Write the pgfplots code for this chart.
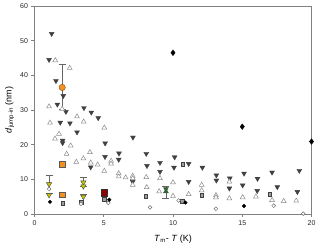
\documentclass[border=0pt]{standalone}
\usepackage{pgfplots}
\pgfplotsset{compat=1.18}
\usepackage{fontspec}
\setmainfont{Liberation Sans}
\definecolor{dtri}{HTML}{404040}
\definecolor{otri}{HTML}{8C8C8C}
\definecolor{orng}{HTML}{F39020}
\definecolor{yel}{HTML}{C8C400}
\definecolor{dred}{HTML}{8B0000}
\definecolor{grn}{HTML}{1A7A1A}
\begin{document}
\begin{tikzpicture}
\begin{axis}[name=ax,
  scale only axis, width=277pt, height=208pt,
  xmin=0, xmax=20, ymin=0, ymax=60,
  xtick={0,5,10,15,20}, ytick={0,10,20,30,40,50,60},
  tick pos=left, tick align=outside, major tick length=3pt,
  axis line style={color=gray, line width=0.8pt},
  tick style={color=gray, line width=0.6pt},
  /pgf/number format/assume math mode=true,
  ticklabel style={font=\fontsize{7}{8}\selectfont, color=black!85},
  label style={font=\fontsize{9}{10}\selectfont},
  xlabel={\textit{T}\textsubscript{m}- \textit{T} (K)},
  ylabel={\textit{d}\textsubscript{jump-in} (nm)},
  xlabel style={at={([yshift=-25pt]axis description cs:0.5,0)}, anchor=center},
  ylabel style={at={([xshift=-25pt]axis description cs:0,0.5)}, anchor=center},
  clip=false,
]
% dark filled down triangles
\addplot[only marks, mark=triangle*, mark size=2.8pt, mark options={rotate=180, fill=dtri, draw=dtri}] coordinates {
(1.24,52.0)(1.05,44.5)(1.55,38.4)(2.08,34.1)(1.65,31.6)(2.27,29.5)(3.57,30.6)(4.1,29.3)(4.6,27.7)(1.86,26.4)(2.56,26.2)(3.07,23.6)(2.03,21.2)(2.03,20.5)(5.1,20.4)(7.11,22.1)(5.09,16.5)(6.1,17.5)(6.08,15.7)(4.06,13.5)(7.09,9.3)(8.07,17.4)(8.12,13.9)(9.06,14.8)(9.06,12.2)(10.12,16.4)(10.07,13.4)(11.13,14.5)(12.12,13.4)(11.13,9.3)(13.13,11.2)(13.13,9.7)(14.1,10.3)(14.07,7.4)(15.13,11.7)(15.03,8.3)(16.1,10.2)(16.08,6.7)(17.15,12.0)(17.53,7.8)(19.12,12.5)(18.98,6.4)
};
% open up triangles
\addplot[only marks, mark=triangle*, mark size=2.8pt, mark options={fill=white, draw=otri, line width=0.5pt}] coordinates {
(1.5,44.3)(2.54,42.1)(1.05,31.0)(2.0,30.3)(3.07,28.1)(3.55,26.6)(1.12,26.3)(5.04,24.9)(1.48,21.7)(1.77,23.1)(2.61,19.7)(2.32,17.3)(4.0,17.8)(3.02,15.0)(3.53,16.0)(4.06,14.8)(4.56,14.2)(5.04,12.4)(5.53,15.3)(5.53,14.5)(6.08,11.7)(6.08,10.8)(6.58,10.5)(7.09,11.0)(7.09,10.3)(7.09,8.4)(8.07,10.6)(8.1,7.7)(9.06,10.3)(9.0,6.5)(10.0,9.1)(10.0,5.2)(11.13,5.7)(12.07,8.4)(12.07,6.8)(13.1,5.4)(13.1,4.8)(14.07,9.3)(14.07,4.5)(15.03,4.8)(15.99,5.0)(17.15,4.0)(17.99,3.7)(18.9,3.8)
};
% gray squares
\addplot[only marks, mark=square*, mark size=1.9pt, mark options={fill=gray!75, draw=dtri, line width=0.4pt}] coordinates {
(2.04,3.2)(3.4,3.5)(5.02,4.3)(8.03,5.1)(10.7,14.4)(10.67,3.7)(12.07,5.5)(16.98,5.6)
};
% open circles
\addplot[only marks, mark=*, mark size=1.9pt, mark options={fill=white, draw=gray!90!black, line width=0.5pt}] coordinates {
(1.05,7.2)(3.36,2.9)(5.33,3.2)(8.34,1.9)(10.4,3.9)(13.1,1.5)(17.27,2.4)(19.4,0.1)
};
% black circles
\addplot[only marks, mark=*, mark size=1.8pt, mark options={fill=black, draw=black}] coordinates {
(1.12,3.5)(5.4,4.1)(10.9,3.3)(15.13,2.3)
};
% black diamonds
\addplot[only marks, mark=diamond*, mark size=2.8pt, mark options={fill=black, draw=black}] coordinates {
(10,46.5)(15,25.2)(20,20.9)
};
% orange circle with error bar
\addplot[only marks, mark=*, mark size=3.2pt, mark options={fill=orng, draw=orng!60!black, line width=0.4pt},
  error bars/.cd, y dir=both, y explicit, error bar style={color=gray!80!black, line width=0.6pt},
  error mark options={rotate=90, mark size=3.5pt, color=gray!80!black}] coordinates {
(2.0,36.5) +=(0,6.7) -=(0,6.4)
};
% orange squares
\addplot[only marks, mark=square*, mark size=2.7pt, mark options={fill=orng, draw=gray!70!black, line width=0.5pt}] coordinates {
(2.0,14.3)(2.0,5.6)
};
% yellow down triangles with error bars
\addplot[only marks, mark=triangle*, mark size=3pt, mark options={rotate=180, fill=yel, draw=dtri, line width=0.4pt},
  error bars/.cd, y dir=plus, y explicit, error bar style={color=gray!80!black, line width=0.6pt},
  error mark options={rotate=90, mark size=3.5pt, color=gray!80!black}] coordinates {
(1.05,8.6) +=(0,2.6) -=(0,0)
(1.05,5.5) +=(0,0.6) -=(0,0)
(3.53,9.1) +=(0,1.6) -=(0,0)
(3.53,8.0) +=(0,0) -=(0,0)
(3.53,5.0) +=(0,0.7) -=(0,0)
};
% dark red square
\addplot[only marks, mark=square*, mark size=3.1pt, mark options={fill=dred, draw=black!80, line width=0.6pt}] coordinates {
(5.02,6.1)
};
% green triangles with error bar
\addplot[only marks, mark=triangle*, mark size=2.8pt, mark options={fill=grn, draw=black!70, line width=0.4pt},
  error bars/.cd, y dir=both, y explicit, error bar style={color=gray!80!black, line width=0.6pt},
  error mark options={rotate=90, mark size=3.5pt, color=gray!80!black}] coordinates {
(9.49,6.5) +=(0,1.5) -=(0,1.9)
};
\addplot[only marks, mark=triangle*, mark size=2.8pt, mark options={rotate=180, fill=grn, draw=black!70, line width=0.4pt}] coordinates {
(9.49,7.2)
};
\end{axis}
\pgfresetboundingbox
\path ([shift={(-34.5pt,-36pt)}]ax.south west) rectangle ([shift={(8.5pt,6pt)}]ax.north east);
\end{tikzpicture}
\end{document}
